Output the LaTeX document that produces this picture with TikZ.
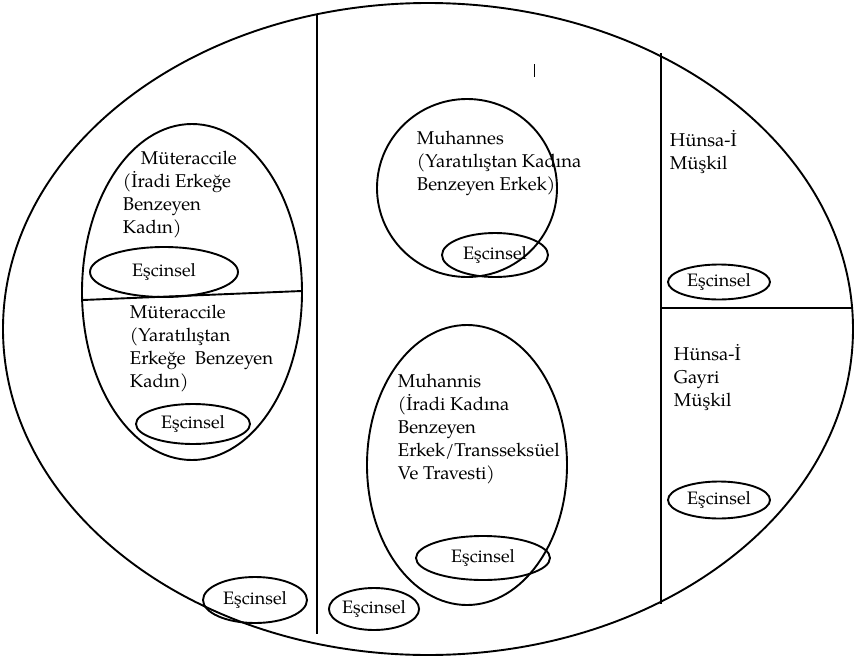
\documentclass[tikz,border=0pt]{standalone}
\usepackage{fontspec}
\setmainfont{TeX Gyre Pagella}
\usetikzlibrary{shapes.geometric}
\begin{document}
\begin{tikzpicture}[x=1pt,y=-1pt,line width=1.9pt,
  txt/.style={anchor=base west,inner sep=0pt,font=\fontsize{18.5}{23}\selectfont},
  esc/.style={draw,ellipse,inner sep=0pt,line width=1.9pt,font=\fontsize{18}{20}\selectfont},
  big/.style={draw,ellipse,inner sep=0pt,line width=1.9pt}]
\useasboundingbox (0,0) rectangle (855,659);
% outer ellipse
\node[big,minimum width=850pt,minimum height=652pt] (outer) at (428,329) {};
% dividers
\coordinate (v1t) at (317,14); \coordinate (v1b) at (317,634);
\coordinate (v2t) at (661,53); \coordinate (v2b) at (661,604);
\coordinate (hl) at (661,308); \coordinate (hr) at (853,308);
\draw (v1t) -- (v1b);
\draw (v2t) -- (v2b);
\draw (hl) -- (hr);
% small tick
\coordinate (tk1) at (534,64); \coordinate (tk2) at (534,77);
\draw[line width=0.7pt] (tk1) -- (tk2);
% left inner ellipse
\node[big,minimum width=220pt,minimum height=336pt] (mut) at (192,292) {};
\coordinate (c1) at (83,300); \coordinate (c2) at (302,291);
\draw (c1) -- (c2);
% middle circles
\node[big,minimum width=180pt,minimum height=178pt] (muhannes) at (467,188) {};
\node[big,minimum width=200pt,minimum height=280pt] (muhannis) at (467,465) {};
% Escinsel ellipses
\node[esc,minimum width=148pt,minimum height=50pt] (e1) at (164,272) {Eşcinsel};
\node[esc,minimum width=114pt,minimum height=40pt] (e2) at (193,424) {Eşcinsel};
\node[esc,minimum width=104pt,minimum height=46pt] (e3) at (255,600) {Eşcinsel};
\node[esc,minimum width=106pt,minimum height=44pt] (e4) at (495,255) {Eşcinsel};
\node[esc,minimum width=134pt,minimum height=44pt] (e5) at (483,558) {Eşcinsel};
\node[esc,minimum width=88pt,minimum height=42pt] (e6) at (374,609) {Eşcinsel};
\node[esc,minimum width=102pt,minimum height=35pt] (e7) at (719,282) {Eşcinsel};
\node[esc,minimum width=102pt,minimum height=37pt] (e8) at (719,500) {Eşcinsel};
% texts: Müteraccile (upper)
\node[txt] (t1a) at (140,164) {Müteraccile};
\node[txt] (t1b) at (122,187) {(İradi Erkeğe};
\node[txt] (t1c) at (122,210) {Benzeyen};
\node[txt] (t1d) at (122,233) {Kadın)};
% Müteraccile (lower)
\node[txt] (t2a) at (129,318) {Müteraccile};
\node[txt] (t2b) at (129,341) {(Yaratılıştan};
\node[txt] (t2c) at (129,364) {Erkeğe\ \ Benzeyen};
\node[txt] (t2d) at (129,387) {Kadın)};
% Muhannes
\node[txt] (t3a) at (416,144) {Muhannes};
\node[txt] (t3b) at (416,167) {(Yaratılıştan Kadına};
\node[txt] (t3c) at (416,190) {Benzeyen Erkek)};
% Muhannis
\node[txt] (t4a) at (397,387) {Muhannis};
\node[txt] (t4b) at (397,410) {(İradi Kadına};
\node[txt] (t4c) at (397,433) {Benzeyen};
\node[txt] (t4d) at (397,456) {Erkek/Transseksüel};
\node[txt] (t4e) at (397,479) {Ve Travesti)};
% Hünsa
\node[txt] (t5a) at (669,146) {Hünsa-İ};
\node[txt] (t5b) at (669,169) {Müşkil};
\node[txt] (t6a) at (673,360) {Hünsa-İ};
\node[txt] (t6b) at (673,383) {Gayri};
\node[txt] (t6c) at (673,406) {Müşkil};
\end{tikzpicture}
\end{document}
